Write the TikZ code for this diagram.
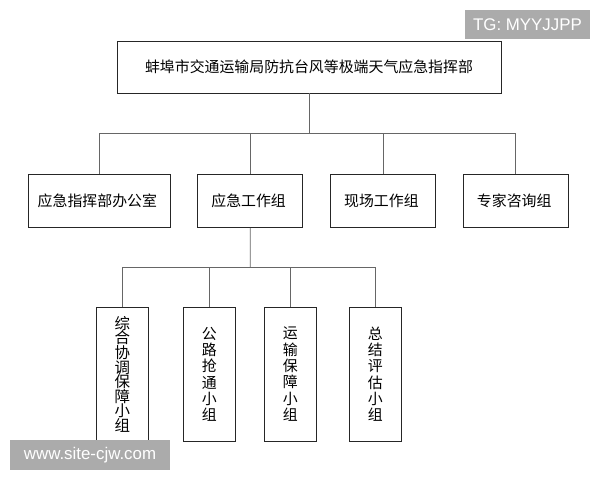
\documentclass[tikz,border=0pt]{standalone}
\usepackage{fontspec}
\newfontfamily\cjk{Noto Sans CJK SC}
\newfontfamily\wmfont{Liberation Sans}
\usetikzlibrary{positioning,calc,matrix}
\tikzset{orgbox/.style={draw=black!85, line width=0.7pt, fill=white, inner sep=2pt, align=center,
		font=\cjk\fontsize{10.6pt}{12pt}\selectfont}}
\tikzset{subbox/.style={orgbox, minimum width=1.3cm, minimum height=3.35cm,
		font=\cjk\fontsize{10.6pt}{11.6pt}\selectfont}}
\tikzset{conn/.style={draw=black!60, line width=0.6pt}}
\tikzset{wmark/.style={fill=gray!66, text=white, inner sep=0pt,
		font=\wmfont\fontsize{12pt}{14pt}\selectfont}}

\begin{document}
\begin{tikzpicture}[ampersand replacement=\&]
			\useasboundingbox (0,0) rectangle (15,12);

			\node[orgbox, minimum width=9.6cm, minimum height=1.3cm] (b0) at (7.725,10.325)
			{蚌埠市交通运输局防抗台风等极端天气应急指挥部};

			\matrix (lv2) [below=2cm of b0, xshift=-0.27cm, matrix of nodes, inner sep=0pt, column sep=0.67cm,
			nodes={orgbox, minimum width=2.625cm, minimum height=1.325cm}
			]
			{
				|[minimum width=3.55cm]| 应急指挥部办公室 \& 应急工作组 \& 现场工作组 \& 专家咨询组 \\
			};

			\node[subbox, below=1.975cm of lv2-1-2, xshift=-3.2cm,
			font=\cjk\fontsize{11pt}{10.4pt}\selectfont] (c1) {综\\合\\协\\调\\保\\障\\小\\组};
			\node[subbox, right=0.85cm of c1] (c2) {公\\路\\抢\\通\\小\\组};
			\node[subbox, right=0.7cm of c2] (c3) {运\\输\\保\\障\\小\\组};
			\node[subbox, right=0.8cm of c3] (c4) {总\\结\\评\\估\\小\\组};

			% junctions of the two buses
			\coordinate (j1) at ($(b0.south)!0.5!(b0.south|-lv2-1-1.north)$);
			\coordinate (j2) at ($(lv2-1-2.south)!0.5!(lv2-1-2.south|-c1.north)$);

			\draw[conn] (b0.south) -- (j1);
			\draw[conn] (lv2-1-1.north) |- (j1);
			\draw[conn] (lv2-1-2.north) |- (j1);
			\draw[conn] (lv2-1-3.north) |- (j1);
			\draw[conn] (lv2-1-4.north) |- (j1);

			\draw[conn] (lv2-1-2.south) -- (j2);
			\draw[conn] (c1.north) |- (j2);
			\draw[conn] (c2.north) |- (j2);
			\draw[conn] (c3.north) |- (j2);
			\draw[conn] (c4.north) |- (j2);

			\node[wmark, minimum width=3.125cm, minimum height=0.725cm] (tg) at (13.1875,11.3875) {TG: MYYJJPP};
			\node[wmark, minimum width=4cm, minimum height=0.75cm] (site) at (2.25,0.625) {www.site-cjw.com};
\end{tikzpicture}
\end{document}
